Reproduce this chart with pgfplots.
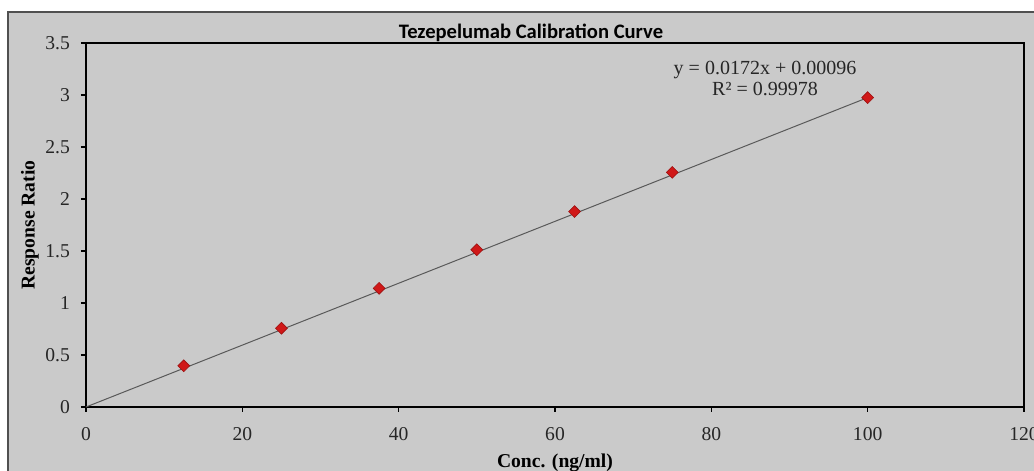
\documentclass[border=0pt]{standalone}
\usepackage{fontspec}
\setmainfont{Liberation Serif}
\newfontfamily\carlito{Carlito}
\usepackage{pgfplots}
\pgfplotsset{compat=1.18}
\definecolor{bg}{HTML}{CACACA}
\definecolor{mk}{HTML}{D01818}
\definecolor{frame}{HTML}{505050}
\begin{document}
\begin{tikzpicture}
\useasboundingbox (0,0) rectangle (517pt,235.5pt);
\fill[white] (0,0) rectangle (517pt,235.5pt);
\filldraw[fill=bg, draw=frame, line width=1pt] (4pt,-5pt) rectangle (525pt,229.7pt);
\begin{axis}[
  at={(43pt,32pt)}, anchor=south west,
  scale only axis, width=469pt, height=182pt,
  xmin=0, xmax=120, ymin=0, ymax=3.5,
  xtick={0,20,40,60,80,100,120},
  ytick={0,0.5,1,1.5,2,2.5,3,3.5},
  tick pos=left, tick align=outside,
  major tick length=2.5pt,
  every tick/.style={black, line width=0.6pt},
  axis line style={black, line width=0.8pt},
  /pgf/number format/assume math mode=true,
  ticklabel style={font=\fontsize{9.8}{11}\selectfont, text=black!85},
  xticklabel style={yshift=-4pt},
  yticklabel style={xshift=-2pt},
  xlabel={\bfseries Conc. (ng/ml)},
  ylabel={\bfseries Response Ratio},
  label style={font=\fontsize{9.8}{11}\selectfont},
  xlabel style={at={(axis description cs:0.5,-0.1538)}, anchor=center},
  ylabel style={at={(axis description cs:-0.0597,0.5)}, anchor=center},
  clip=false,
]
\addplot[black!65, line width=0.5pt, no marks] coordinates {(0,0) (100,2.975)};
\addplot[only marks, mark=square*, mark size=2.1pt,
  mark options={rotate=45, fill=mk, draw=mk!75!black, line width=0.3pt}]
  coordinates {(12.5,0.396) (25,0.757) (37.5,1.141) (50,1.512) (62.5,1.879) (75,2.256) (100,2.975)};
\end{axis}
\node[font=\carlito\bfseries\fontsize{10.3}{12}\selectfont] at (265.5pt,219pt) {Tezepelumab Calibration Curve};
\node[align=center, font=\fontsize{10}{10.5}\selectfont, text=black!85] at (382.5pt,196.5pt) {y = 0.0172x + 0.00096\\R² = 0.99978};
\end{tikzpicture}
\end{document}
